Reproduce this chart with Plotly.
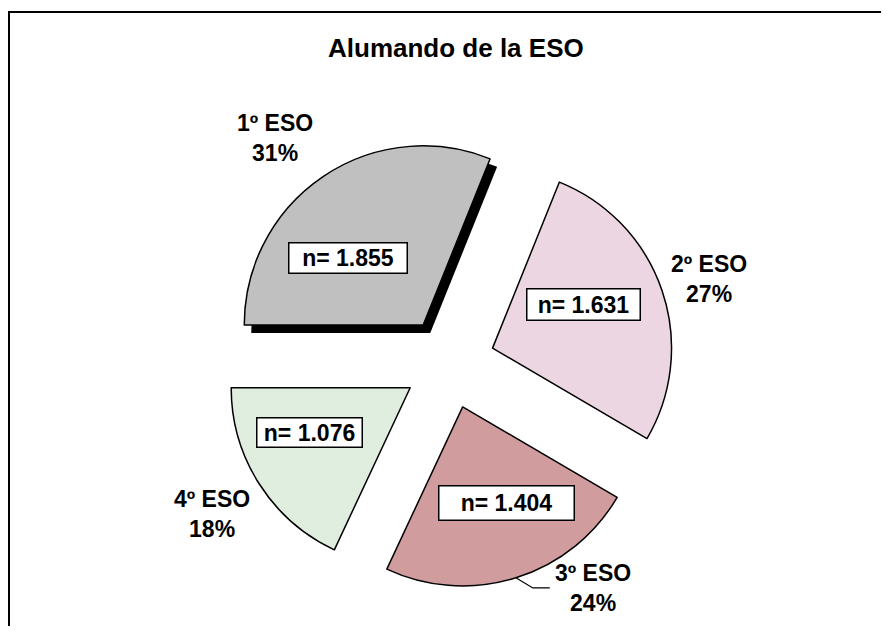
import math

import plotly.graph_objects as go

# the page body keeps its default 8px margin, so the figure is drawn
# slightly smaller and all pixel positions below are page coordinates
PAGE_W, PAGE_H = 889, 634
BODY_MARGIN = 8
W, H = PAGE_W - 2 * BODY_MARGIN, PAGE_H - 2 * BODY_MARGIN

chart_title = "Alumando de la ESO"
courses = ["1º ESO", "2º ESO", "3º ESO", "4º ESO"]
students = [1855, 1631, 1404, 1076]

slice_colors = ["#C0C0C0", "#EBD6E2", "#D09C9E", "#DFEEDF"]
shadow_colors = ["#000000", "rgba(0,0,0,0)", "rgba(0,0,0,0)", "rgba(0,0,0,0)"]

FONT = "Arial, Liberation Sans, sans-serif"

# pie geometry in page pixels
CX, CY = 449, 363
RADIUS = 179
PULL = 0.257
ROTATION = -90
SHADOW_DX, SHADOW_DY = 7, 8

# label placement (polar, around the pie centre)
LABEL_R = [284, 273, 267, 281]
LABEL_SHIFT = [-3.7, 0.9, -15.3, 0.0]
LEADER = [False, False, True, False]
BOX_R = [146, 147, 151, 156]
BOX_SHIFT = [-9.9, -4.6, -5.2, 6.0]
BOX_W = [113, 108, 130, 100]
BOX_H = [25, 26, 29, 24]


def px(x):
    return (x - BODY_MARGIN) / W


def py(y):
    return 1 - (y - BODY_MARGIN) / H


def polar(r, deg):
    a = math.radians(deg)
    return CX + r * math.sin(a), CY - r * math.cos(a)


def domain(dx=0, dy=0):
    half = RADIUS * (1 + PULL)
    return dict(x=[px(CX - half + dx), px(CX + half + dx)],
                y=[py(CY + half + dy), py(CY - half + dy)])


total = sum(students)
mid_angles = []
start = ROTATION
for v in students:
    span = 360 * v / total
    mid_angles.append(start + span / 2)
    start += span

fig = go.Figure()

# Excel style drop shadow under the first slice
fig.add_trace(go.Pie(
    values=students, labels=courses, sort=False, direction='clockwise',
    rotation=ROTATION, pull=PULL, textinfo='none', hoverinfo='skip',
    marker=dict(colors=shadow_colors, line=dict(width=0)),
    domain=domain(SHADOW_DX, SHADOW_DY), showlegend=False
))

fig.add_trace(go.Pie(
    values=students, labels=courses, sort=False, direction='clockwise',
    rotation=ROTATION, pull=PULL, textinfo='none',
    marker=dict(colors=slice_colors, line=dict(color='black', width=1.5)),
    domain=domain(), showlegend=False
))

annotations = [dict(
    text=chart_title, x=px(456), y=py(48), xref='paper', yref='paper',
    xanchor='center', yanchor='middle', showarrow=False,
    font=dict(family=FONT, size=26, color='black', weight='bold')
)]
# chart frame; left edge kept just inside the figure area
shapes = [dict(
    type='rect', xref='paper', yref='paper',
    x0=px(BODY_MARGIN + 1), y0=-0.1, x1=1.1, y1=py(12),
    line=dict(color='black', width=2)
)]

for i, (course, v) in enumerate(zip(courses, students)):
    mid = mid_angles[i]
    pct = round(100 * v / total)

    lx, ly = polar(LABEL_R[i], mid + LABEL_SHIFT[i])
    annotations.append(dict(
        text=f"{course}<br>{pct}%", x=px(lx), y=py(ly),
        xref='paper', yref='paper', xanchor='center', yanchor='middle',
        showarrow=False, align='center',
        font=dict(family=FONT, size=23, color='black', weight='bold')
    ))

    if LEADER[i]:
        sx, sy = polar(RADIUS * (1 + PULL), mid)
        ex, ey = lx - 43, ly
        shapes.append(dict(
            type='path', xref='paper', yref='paper',
            path=f"M {px(sx)},{py(sy)} L {px(ex - 17)},{py(ey)} L {px(ex)},{py(ey)}",
            line=dict(color='black', width=1.2)
        ))

    bx, by = polar(BOX_R[i], mid + BOX_SHIFT[i])
    n_text = "n= " + f"{v:,}".replace(",", ".")
    annotations.append(dict(
        text=n_text, x=px(bx), y=py(by), xref='paper', yref='paper',
        xanchor='center', yanchor='middle',
        showarrow=False, width=BOX_W[i], height=BOX_H[i], bgcolor='white',
        bordercolor='black', borderwidth=1.5, borderpad=2,
        font=dict(family=FONT, size=23, color='black', weight='bold')
    ))

fig.update_layout(
    width=W, height=H,
    margin=dict(l=0, r=0, t=0, b=0),
    paper_bgcolor='white', plot_bgcolor='white',
    showlegend=False,
    annotations=annotations,
    shapes=shapes
)

fig.write_html("out.html")
